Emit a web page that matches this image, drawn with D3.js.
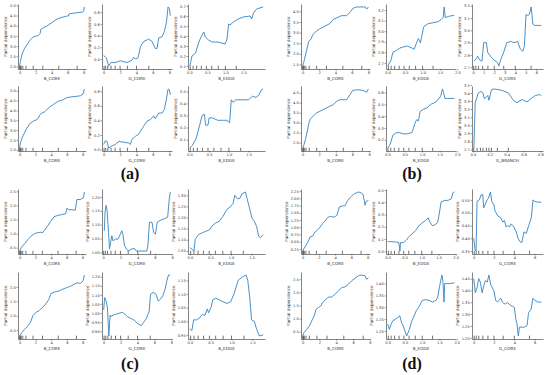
<!DOCTYPE html>
<html><head><meta charset="utf-8">
<script src="https://cdn.jsdelivr.net/npm/d3@7"></script>
<style>body{margin:0;background:#fff}</style>
</head><body><svg id="c" width="550" height="375"></svg>
<script>
// ---------- tick labels ----------
const xtCore = ["0","2","4","6","8"];
const xtCore6 = ["0","2","4","6"];
const xtCore1 = ["0","1","2","3","4","5","6"];
const xtEdge = ["0.0","0.5","1.0","1.5"];
const xtEdge2 = ["0.0","0.5","1.0","1.5","2.0"];
const xtBranch = ["0.0","0.2","0.4","0.6","0.8"];

// ---------- deciles ----------
const decBCore = [0.0,0.1,0.2,0.4,0.8,1.7,2.9,4.9,7.2];
const decGCore = [0.05,0.25,0.5,0.9,1.4,2.0,2.9,4.0,5.5];
const decBEdge = [0.02,0.1,0.2,0.33,0.47,0.62,0.8,1.0,1.3];
const decGBranch = [0.01,0.05,0.09,0.12,0.16,0.19,0.22,0.29,0.42];

// ---------- (a) ----------
const a1x = [0,0.1,0.22,0.4,0.64,1.0,1.28,1.71,2.35,2.56,2.65,3.0,3.42,4.06,4.7,5.2,5.77,6.1,6.19,7.0,7.9,8.0,8.1];
const a1y = [2.02,2.25,2.47,2.7,2.9,3.12,3.28,3.45,3.52,3.61,3.82,3.9,3.99,4.16,4.33,4.4,4.46,4.48,4.58,4.63,4.67,4.7,4.92];
const a1yt = ["2.0","2.5","3.0","3.5","4.0","4.5","5.0"];
const a2x = [0,0.33,0.61,0.9,1.43,2.04,2.85,3.46,3.66,3.87,4.2,4.48,4.88,5.49,5.9,6.3,6.51,6.71,7.12,7.4,7.65,7.85,8.01,8.13];
const a2y = [0.06,0.02,-0.12,-0.06,-0.06,-0.03,-0.06,-0.02,0.03,0.0,0.02,0.21,0.3,0.34,0.3,0.18,0.18,0.36,0.38,0.47,0.62,0.89,0.86,0.74];
const a2yt = ["0.0","0.2","0.4","0.6","0.8"];
const a3x = [0.01,0.07,0.17,0.26,0.35,0.4,0.44,0.53,0.63,0.77,0.9,0.99,1.04,1.09,1.13,1.22,1.36,1.5,1.69,1.73,1.78,1.87,1.96,2.05];
const a3y = [0.1,0.2,0.23,0.34,0.41,0.44,0.39,0.36,0.34,0.34,0.33,0.32,0.36,0.52,0.51,0.54,0.57,0.59,0.6,0.57,0.63,0.67,0.68,0.69];
const a3yt = ["0.1","0.2","0.3","0.4","0.5","0.6","0.7"];
const a4x = [0,0.09,0.42,0.86,1.28,1.71,2.14,2.35,2.56,2.78,3.21,3.63,4.27,4.91,5.35,5.99,6.41,7.69,8.04,8.21];
const a4y = [2.09,2.35,2.71,3.06,3.32,3.45,3.53,3.59,3.77,3.85,3.94,4.12,4.3,4.47,4.51,4.65,4.68,4.74,4.83,5.09];
const a4yt = ["2.0","2.5","3.0","3.5","4.0","4.5","5.0"];
const a5x = [0,0.21,0.41,0.61,1.02,1.43,1.83,2.44,3.05,3.26,3.46,3.87,4.27,4.48,4.88,5.29,5.7,6.1,6.3,6.71,7.12,7.4,7.65,7.85,8.01,8.13];
const a5y = [0.07,0.12,0.11,0.02,0.05,0.07,0.11,0.1,0.09,0.07,0.14,0.18,0.21,0.25,0.32,0.39,0.41,0.46,0.42,0.5,0.5,0.55,0.69,0.83,0.82,0.75];
const a5yt = ["0.0","0.2","0.4","0.6","0.8"];
const a6x = [0.01,0.07,0.17,0.26,0.32,0.38,0.41,0.47,0.5,0.58,0.72,0.86,0.95,1.02,1.06,1.11,1.18,1.31,1.5,1.6,1.69,1.76,1.82,1.87];
const a6y = [0.03,0.05,0.11,0.22,0.3,0.31,0.22,0.22,0.28,0.28,0.26,0.26,0.26,0.24,0.43,0.41,0.43,0.43,0.43,0.46,0.45,0.47,0.51,0.52];
const a6yt = ["0.1","0.2","0.3","0.4","0.5"];

// ---------- (b) ----------
const b1x = [0,0.12,0.42,0.74,1.04,1.23,1.65,2.06,2.68,3.3,3.7,4.12,4.74,5.35,5.76,6.17,6.58,7.6,7.81,8.0];
const b1y = [1.42,1.58,2.05,2.59,2.7,2.91,3.06,3.17,3.3,3.42,3.61,3.69,3.8,3.8,3.95,4.16,4.21,4.21,4.11,4.21];
const b1yt = ["1.5","2.0","2.5","3.0","3.5","4.0"];
const b2x = [0,0.09,0.15,0.26,0.35,0.44,0.56,0.7,0.76,0.85,0.88,0.94,0.97,1.03,1.15,1.29,1.44,1.53,1.59,1.62,1.65,1.74,1.88,1.91];
const b2y = [2.67,2.72,2.8,2.82,2.84,2.85,2.86,2.84,2.83,2.91,2.93,2.89,2.94,3.04,3.07,3.08,3.09,3.11,3.13,3.23,3.13,3.14,3.15,3.15];
const b2yt = ["2.7","2.8","2.9","3.0","3.1","3.2"];
const b3x = [0.1,0.29,0.42,0.61,0.84,1.0,1.26,1.38,1.64,1.96,2.29,2.44,2.61,2.93,3.19,3.57,3.89,4.22,4.47,4.71,4.86,5.02,5.19,5.34,5.51,5.67,5.83,6.31,6.47];
const b3y = [2.75,2.77,2.79,2.76,2.75,2.9,2.9,2.82,2.79,2.76,2.74,2.71,2.76,2.83,2.9,2.91,2.9,2.91,2.85,2.83,2.87,3.13,3.12,3.13,3.19,3.05,3.04,3.04,3.04];
const b3yt = ["2.7","2.8","2.9","3.0","3.1","3.2"];
const b4x = [0.04,0.16,0.33,0.52,0.76,0.93,1.25,1.66,2.06,2.46,2.87,3.27,3.67,4.08,4.48,5.3,5.7,6.02,6.7,7.3,7.72,7.92];
const b4y = [1.73,1.9,2.15,2.49,2.99,3.19,3.32,3.49,3.57,3.65,3.74,3.82,3.9,4.07,4.15,4.15,4.4,4.62,4.65,4.62,4.52,4.69];
const b4yt = ["2.0","2.5","3.0","3.5","4.0","4.5"];
const b5x = [0.01,0.08,0.16,0.26,0.35,0.45,0.56,0.7,0.74,0.79,0.84,0.89,0.94,1.04,1.14,1.24,1.33,1.43,1.53,1.58,1.61,1.65,1.73,1.92];
const b5y = [0.13,0.16,0.24,0.26,0.26,0.25,0.25,0.26,0.29,0.34,0.37,0.36,0.44,0.46,0.47,0.5,0.51,0.53,0.57,0.63,0.6,0.55,0.55,0.55];
const b5yt = ["0.2","0.3","0.4","0.5","0.6"];
const b6x = [0.012,0.028,0.065,0.095,0.12,0.136,0.16,0.177,0.19,0.2,0.22,0.25,0.31,0.35,0.42,0.48,0.52,0.58,0.64,0.7,0.74,0.79,0.81];
const b6y = [2.72,3.28,3.4,3.42,3.4,3.33,3.35,3.37,3.31,3.35,3.44,3.45,3.44,3.43,3.4,3.31,3.28,3.32,3.29,3.34,3.37,3.38,3.37];
const b6yt = ["2.7","2.8","2.9","3.0","3.1","3.2","3.3","3.4","3.5"];

// ---------- (c) ----------
const c1x = [0,0.21,0.63,1.05,1.46,1.88,2.3,2.71,2.93,3.13,3.55,3.96,4.38,4.8,5.43,5.84,6.05,6.25,6.68,7.09,7.3,7.71,8.13,8.25];
const c1y = [0.38,0.5,0.64,0.79,0.91,1.0,1.03,1.05,1.03,1.11,1.26,1.44,1.6,1.64,1.68,1.7,1.91,1.85,1.85,1.83,2.21,2.21,2.27,2.48];
const c1yt = ["0.5","1.0","1.5","2.0","2.5"];
const c2x = [0.12,0.21,0.33,0.45,0.61,0.73,0.85,1.0,1.13,1.42,1.73,1.9,2.15,2.3,2.46,2.7,2.95,3.24,3.64,3.84,4.24,4.64,5.05,5.18,5.37,5.66,5.85,6.06,6.27,6.58,7.07,7.48,7.67,7.79];
const c2y = [1.078,1.145,1.17,1.151,1.072,1.012,1.036,1.06,1.042,1.048,1.048,1.06,1.078,1.063,1.026,1.012,1.005,1.012,1.014,1.005,1.005,1.005,1.005,1.024,1.109,1.109,1.072,1.066,1.109,1.115,1.121,1.127,1.194,1.218];
const c2yt = ["1.00","1.05","1.10","1.15","1.20"];
const c3x = [0,0.05,0.1,0.13,0.16,0.21,0.3,0.39,0.48,0.53,0.62,0.71,0.8,0.89,0.98,1.05,1.09,1.15,1.21,1.27,1.35,1.39,1.44,1.51,1.57,1.62,1.67,1.71,1.78];
const c3y = [1.064,1.057,1.049,1.101,1.109,1.123,1.131,1.138,1.145,1.16,1.175,1.182,1.204,1.234,1.248,1.263,1.3,1.285,1.285,1.307,1.315,1.285,1.248,1.197,1.182,1.16,1.116,1.109,1.123];
const c3yt = ["1.05","1.10","1.15","1.20","1.25","1.30"];
const c4x = [0,0.3,0.63,1.05,1.38,1.68,2.09,2.5,2.93,3.34,3.75,3.96,4.38,5.0,5.63,6.05,6.46,6.88,7.3,7.71,8.05,8.21];
const c4y = [0.3,0.42,0.53,0.65,0.77,1.0,1.12,1.18,1.3,1.41,1.59,1.76,1.82,1.86,1.94,1.98,2.02,2.09,2.14,2.12,2.21,2.41];
const c4yt = ["0.5","1.0","1.5","2.0"];
const c5x = [0,0.12,0.28,0.45,0.61,0.76,0.93,1.09,1.42,1.82,2.22,2.55,2.83,3.24,3.64,4.04,4.45,4.73,5.05,5.37,5.54,5.85,6.18,6.46,6.67,6.99,7.27,7.48,7.67,7.88];
const c5y = [1.018,1.085,1.069,1.028,0.874,0.989,0.979,0.989,0.993,0.999,1.004,0.993,0.979,0.97,0.96,0.941,0.931,0.95,0.97,1.008,1.104,1.114,1.104,1.065,1.075,1.094,1.133,1.18,1.209,1.209];
const c5yt = ["0.90","0.95","1.00","1.05","1.10","1.15","1.20"];
const c6x = [0,0.05,0.09,0.16,0.23,0.3,0.36,0.42,0.45,0.51,0.55,0.62,0.71,0.8,0.89,0.98,1.07,1.16,1.27,1.35,1.39,1.44,1.48,1.55,1.6,1.67,1.76];
const c6y = [0.972,0.966,1.005,1.005,1.012,1.025,1.021,1.045,1.031,1.051,1.078,1.084,1.078,1.071,1.065,1.071,1.104,1.15,1.163,1.169,1.15,1.084,1.005,0.999,0.972,0.946,0.95];
const c6yt = ["0.95","1.00","1.05","1.10","1.15"];

// ---------- (d) ----------
const d1x = [0,0.2,0.62,0.94,1.23,1.51,1.85,2.17,2.47,2.75,3.09,3.41,3.9,4.23,4.52,4.93,5.22,5.55,5.87,6.29,6.86,7.19,7.44,7.6,7.69,7.81,8.1];
const d1y = [0.175,0.28,0.47,0.67,0.69,0.83,0.91,1.01,1.13,1.21,1.34,1.37,1.35,1.41,1.7,1.74,1.74,1.92,2.03,2.14,2.22,2.19,2.14,1.92,1.76,1.89,1.92];
const d1yt = ["0.25","0.50","0.75","1.00","1.25","1.50","1.75","2.00","2.25"];
const d2x = [0,0.08,0.23,0.33,0.36,0.38,0.47,0.55,0.62,0.72,0.82,0.92,1.02,1.12,1.19,1.25,1.32,1.39,1.47,1.52,1.57,1.67,1.77,1.87,1.92,1.96];
const d2y = [0.079,0.079,0.076,0.071,0.002,0.071,0.071,0.091,0.118,0.143,0.169,0.208,0.234,0.252,0.273,0.234,0.208,0.216,0.234,0.312,0.402,0.415,0.415,0.428,0.479,0.484];
const d2yt = ["0.0","0.1","0.2","0.3","0.4","0.5"];
const d3x = [0,0.13,0.23,0.33,0.56,0.72,0.89,0.99,1.12,1.32,1.45,1.65,1.78,1.98,2.11,2.38,2.64,2.87,3.04,3.2,3.37,3.53,3.7,3.96,4.19,4.36,4.62,4.75,4.95,5.18,5.42,5.68,5.84,6.01,6.34,6.66];
const d3y = [0.4,0.356,0.35,0.544,0.55,0.569,0.571,0.519,0.531,0.55,0.556,0.581,0.544,0.531,0.506,0.487,0.481,0.463,0.469,0.444,0.45,0.444,0.456,0.444,0.425,0.4,0.384,0.384,0.425,0.419,0.45,0.481,0.55,0.544,0.541,0.541];
const d3yt = ["0.35","0.40","0.45","0.50","0.55"];
const d4x = [0,0.17,0.48,0.8,1.07,1.36,1.6,1.87,2.14,2.46,2.79,3.06,3.46,3.86,4.25,4.65,5.05,5.44,5.83,6.24,6.63,7.02,7.42,7.62,7.82];
const d4y = [0.34,0.47,0.59,0.72,0.91,1.1,1.35,1.42,1.48,1.65,1.74,1.82,1.82,1.93,2.05,2.18,2.21,2.31,2.44,2.54,2.63,2.66,2.63,2.5,2.56];
const d4yt = ["0.5","1.0","1.5","2.0","2.5"];
const d5x = [0,0.05,0.1,0.15,0.23,0.3,0.35,0.4,0.45,0.5,0.55,0.63,0.7,0.75,0.83,0.9,1.0,1.1,1.2,1.3,1.35,1.4,1.45,1.5,1.57,1.6,1.63,1.65,1.7,1.8,1.93];
const d5y = [1.229,1.207,1.229,1.243,1.25,1.258,1.264,1.236,1.221,1.2,1.179,1.207,1.243,1.258,1.286,1.3,1.329,1.332,1.329,1.322,1.326,1.329,1.343,1.386,1.436,1.408,1.322,1.4,1.4,1.4,1.403];
const d5yt = ["1.20","1.25","1.30","1.35","1.40"];
const d6x = [0,0.16,0.33,0.5,0.66,0.83,1.0,1.16,1.33,1.5,1.66,1.83,2.0,2.16,2.33,2.5,2.66,2.83,3.0,3.16,3.33,3.66,3.83,4.0,4.16,4.26,4.33,4.4,4.5,4.66,5.0,5.26,5.4,5.66,5.83,6.0,6.33,6.66];
const d6y = [1.45,1.39,1.412,1.45,1.435,1.39,1.42,1.442,1.435,1.465,1.427,1.412,1.397,1.359,1.351,1.359,1.367,1.351,1.344,1.344,1.349,1.336,1.333,1.329,1.276,1.26,1.23,1.208,1.245,1.245,1.245,1.252,1.306,1.321,1.367,1.359,1.351,1.351];
const d6yt = ["1.20","1.25","1.30","1.35","1.40","1.45"];

const groupLabels = ["(a)","(b)","(c)","(d)"];

// ---------- panel table (group, row, col) ----------
const panels = [
  {g:0,r:0,c:0,x:a1x,y:a1y,xl:"B_CORE",xt:xtCore,yt:a1yt,dec:decBCore},
  {g:0,r:0,c:1,x:a2x,y:a2y,xl:"G_CORE",xt:xtCore,yt:a2yt,dec:decGCore},
  {g:0,r:0,c:2,x:a3x,y:a3y,xl:"B_EDGE",xt:xtEdge,yt:a3yt,dec:decBEdge},
  {g:0,r:1,c:0,x:a4x,y:a4y,xl:"B_CORE",xt:xtCore,yt:a4yt,dec:decBCore},
  {g:0,r:1,c:1,x:a5x,y:a5y,xl:"G_CORE",xt:xtCore,yt:a5yt,dec:decGCore},
  {g:0,r:1,c:2,x:a6x,y:a6y,xl:"B_EDGE",xt:xtEdge,yt:a6yt,dec:decBEdge},
  {g:1,r:0,c:0,x:b1x,y:b1y,xl:"B_CORE",xt:xtCore,yt:b1yt,dec:decBCore},
  {g:1,r:0,c:1,x:b2x,y:b2y,xl:"B_EDGE",xt:xtEdge2,yt:b2yt,dec:decBEdge},
  {g:1,r:0,c:2,x:b3x,y:b3y,xl:"G_CORE",xt:xtCore1,yt:b3yt,dec:decGCore},
  {g:1,r:1,c:0,x:b4x,y:b4y,xl:"B_CORE",xt:xtCore,yt:b4yt,dec:decBCore},
  {g:1,r:1,c:1,x:b5x,y:b5y,xl:"B_EDGE",xt:xtEdge2,yt:b5yt,dec:decBEdge},
  {g:1,r:1,c:2,x:b6x,y:b6y,xl:"G_BRANCH",xt:xtBranch,yt:b6yt,dec:decGBranch},
  {g:2,r:0,c:0,x:c1x,y:c1y,xl:"B_CORE",xt:xtCore,yt:c1yt,dec:decBCore},
  {g:2,r:0,c:1,x:c2x,y:c2y,xl:"G_CORE",xt:xtCore,yt:c2yt,dec:decGCore},
  {g:2,r:0,c:2,x:c3x,y:c3y,xl:"B_EDGE",xt:xtEdge,yt:c3yt,dec:decBEdge},
  {g:2,r:1,c:0,x:c4x,y:c4y,xl:"B_CORE",xt:xtCore,yt:c4yt,dec:decBCore},
  {g:2,r:1,c:1,x:c5x,y:c5y,xl:"G_CORE",xt:xtCore,yt:c5yt,dec:decGCore},
  {g:2,r:1,c:2,x:c6x,y:c6y,xl:"B_EDGE",xt:xtEdge,yt:c6yt,dec:decBEdge},
  {g:3,r:0,c:0,x:d1x,y:d1y,xl:"B_CORE",xt:xtCore,yt:d1yt,dec:decBCore},
  {g:3,r:0,c:1,x:d2x,y:d2y,xl:"B_EDGE",xt:xtEdge2,yt:d2yt,dec:decBEdge},
  {g:3,r:0,c:2,x:d3x,y:d3y,xl:"G_CORE",xt:xtCore6,yt:d3yt,dec:decGCore},
  {g:3,r:1,c:0,x:d4x,y:d4y,xl:"B_CORE",xt:xtCore,yt:d4yt,dec:decBCore},
  {g:3,r:1,c:1,x:d5x,y:d5y,xl:"B_EDGE",xt:xtEdge2,yt:d5yt,dec:decBEdge},
  {g:3,r:1,c:2,x:d6x,y:d6y,xl:"G_CORE",xt:xtCore6,yt:d6yt,dec:decGCore}
];

// ---------- layout ----------
const colsL = [[18,86],[102,172],[188,265]];
const colsR = [[301,370],[386,456],[472,543]];
const rowsT = [[4,69],[86,151]];
const rowsB = [[189,254],[272,339]];
const labelPos = [[130,179],[412,179],[130,369],[412,369]];

const FONT = "DejaVu Sans, sans-serif";
const LINE = "#3584c0";
const INK = "#333";
const svg = d3.select("#c");

panels.forEach(p => {
  const cols = (p.g === 0 || p.g === 2) ? colsL : colsR;
  const rows = (p.g < 2) ? rowsT : rowsB;
  const [L, R] = cols[p.c];
  const [T, B] = rows[p.r];
  const [x0, x1] = d3.extent(p.x.concat(p.dec.filter(v => v <= d3.max(p.x))));
  const [y0, y1] = d3.extent(p.y);
  const xm = (x1 - x0) * 0.025, ym = (y1 - y0) * 0.05;
  const xs = d3.scaleLinear().domain([x0 - xm, x1 + xm]).range([L, R]);
  const ys = d3.scaleLinear().domain([y0 - ym, y1 + ym]).range([B, T]);
  const g = svg.append("g");

  const xa = g.append("g").attr("transform", `translate(0,${B})`)
    .call(d3.axisBottom(xs).tickValues(p.xt.map(Number)).tickFormat((d, i) => p.xt[i])
      .tickSizeInner(1.5).tickSizeOuter(0).tickPadding(0.8));
  const ya = g.append("g").attr("transform", `translate(${L},0)`)
    .call(d3.axisLeft(ys).tickValues(p.yt.map(Number)).tickFormat((d, i) => p.yt[i])
      .tickSizeInner(1.5).tickSizeOuter(0).tickPadding(0.8));
  [xa, ya].forEach(a => {
    a.attr("font-size", null).attr("font-family", null);
    a.select(".domain").attr("stroke", INK).attr("stroke-width", 0.6);
    a.selectAll(".tick line").attr("stroke", INK).attr("stroke-width", 0.5);
    a.selectAll(".tick text").attr("font-size", 3.6).attr("font-family", FONT).attr("fill", INK);
  });

  // deciles
  const h = (B - T) * 0.05;
  g.append("g").selectAll("line").data(p.dec).join("line")
    .attr("x1", d => xs(d)).attr("x2", d => xs(d))
    .attr("y1", B).attr("y2", B - h)
    .attr("stroke", "#111").attr("stroke-width", 0.6);

  // curve
  const pts = d3.zip(p.x, p.y);
  g.append("path").datum(pts)
    .attr("d", d3.line().x(d => xs(d[0])).y(d => ys(d[1])))
    .attr("fill", "none").attr("stroke", LINE).attr("stroke-width", 0.9)
    .attr("stroke-linejoin", "round");

  // labels
  g.append("text").attr("x", (L + R) / 2).attr("y", B + 10.5)
    .attr("text-anchor", "middle").attr("font-size", 4.2).attr("font-family", FONT)
    .attr("fill", INK).text(p.xl);
  let mw = 0;
  ya.selectAll(".tick text").each(function () { mw = Math.max(mw, this.getBBox().width); });
  const lx = L - mw - 4.5;
  g.append("text").attr("transform", `translate(${lx},${(T + B) / 2}) rotate(-90)`)
    .attr("text-anchor", "middle").attr("font-size", 4.2).attr("font-family", FONT)
    .attr("fill", INK).text("Partial dependence");
});

groupLabels.forEach((t, i) => {
  svg.append("text").attr("x", labelPos[i][0]).attr("y", labelPos[i][1])
    .attr("text-anchor", "middle").attr("font-size", 16).attr("font-weight", "bold")
    .attr("font-family", "Liberation Serif, Times New Roman, serif")
    .attr("fill", "#111").text(t);
});
</script></body></html>
